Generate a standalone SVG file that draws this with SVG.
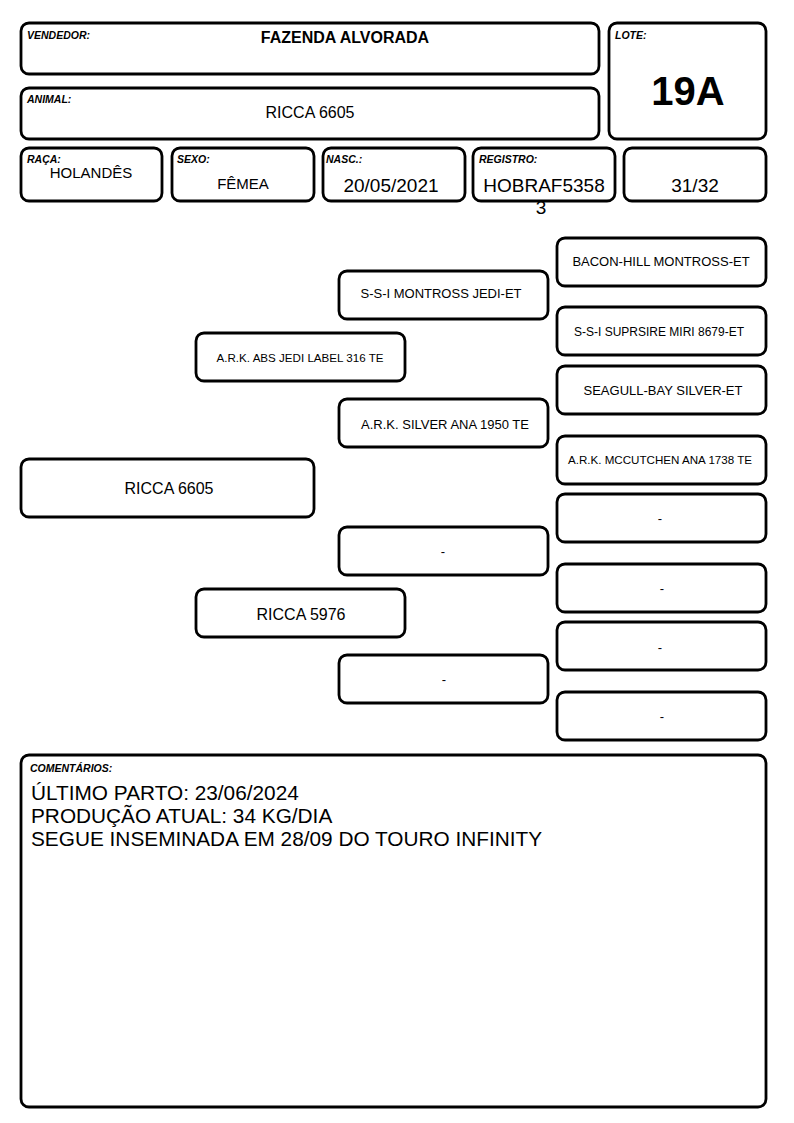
<svg xmlns="http://www.w3.org/2000/svg" width="794" height="1123" viewBox="0 0 794 1123">
<style>
.b{fill:#fff;stroke:#000;stroke-width:2.8}
.lbl{font-family:"Liberation Sans",Arial,sans-serif;font-size:10.5px;font-weight:bold;font-style:italic;fill:#000}
.t{font-family:"Liberation Sans",Arial,sans-serif;fill:#000;text-anchor:middle}
.f16{font-size:16px}
.f13{font-size:13px}
.f12{font-size:12px}
.f11{font-size:11.6px}
.f19{font-size:19px}
.c{font-family:"Liberation Sans",Arial,sans-serif;font-size:20.8px;fill:#000}
</style>
<rect width="794" height="1123" fill="#fff"/>

<g id="vendedor">
<rect class="b" x="21" y="23" width="578" height="51" rx="8"/>
<text class="lbl" x="27" y="39">VENDEDOR:</text>
<text class="t f16" x="345" y="43" font-weight="bold">FAZENDA ALVORADA</text>
</g>
<g id="lote">
<rect class="b" x="609" y="23" width="157" height="116" rx="8"/>
<text class="lbl" x="615" y="39">LOTE:</text>
<text class="t" x="688" y="105" font-size="40" font-weight="bold">19A</text>
</g>
<g id="animal">
<rect class="b" x="21" y="88" width="578" height="51" rx="8"/>
<text class="lbl" x="27" y="103">ANIMAL:</text>
<text class="t f16" x="310" y="118">RICCA 6605</text>
</g>
<g id="raca">
<rect class="b" x="21" y="148" width="141" height="53" rx="8"/>
<text class="lbl" x="27" y="163">RAÇA:</text>
<text class="t" x="91" y="178" font-size="15">HOLANDÊS</text>
</g>
<g id="sexo">
<rect class="b" x="172" y="148" width="142" height="53" rx="8"/>
<text class="lbl" x="177" y="163">SEXO:</text>
<text class="t" x="243" y="189" font-size="15">FÊMEA</text>
</g>
<g id="nasc">
<rect class="b" x="323" y="148" width="142" height="53" rx="8"/>
<text class="lbl" x="326" y="163">NASC.:</text>
<text class="t f19" x="391" y="192">20/05/2021</text>
</g>
<g id="registro">
<rect class="b" x="473" y="148" width="142" height="53" rx="8"/>
<text class="lbl" x="479" y="163">REGISTRO:</text>
<text class="t f19" x="544" y="192">HOBRAF5358</text>
<text class="t f19" x="541" y="214">3</text>
</g>
<g id="fracao">
<rect class="b" x="624" y="148" width="142" height="53" rx="8"/>
<text class="t f19" x="695" y="192">31/32</text>
</g>

<g id="animal-ped">
<rect class="b" x="21" y="459" width="293" height="58" rx="8"/>
<text class="t f16" x="169" y="494">RICCA 6605</text>
</g>
<g id="pai">
<rect class="b" x="196" y="333" width="209" height="48" rx="8"/>
<text class="t f11" x="300" y="362">A.R.K. ABS JEDI LABEL 316 TE</text>
</g>
<g id="mae">
<rect class="b" x="196" y="589" width="209" height="48" rx="8"/>
<text class="t f16" x="301" y="620">RICCA 5976</text>
</g>
<g id="avo-pp">
<rect class="b" x="339" y="271" width="209" height="48" rx="8"/>
<text class="t f13" x="441" y="298">S-S-I MONTROSS JEDI-ET</text>
</g>
<g id="avo-pm">
<rect class="b" x="339" y="399" width="209" height="48" rx="8"/>
<text class="t f13" x="445" y="429">A.R.K. SILVER ANA 1950 TE</text>
</g>
<g id="avo-mp">
<rect class="b" x="339" y="527" width="209" height="48" rx="8"/>
<text class="t f13" x="443" y="556">-</text>
</g>
<g id="avo-mm">
<rect class="b" x="339" y="655" width="209" height="48" rx="8"/>
<text class="t f13" x="444" y="684">-</text>
</g>
<g id="bis-1">
<rect class="b" x="557" y="238" width="209" height="48" rx="8"/>
<text class="t f13" x="661" y="266">BACON-HILL MONTROSS-ET</text>
</g>
<g id="bis-2">
<rect class="b" x="557" y="307" width="209" height="48" rx="8"/>
<text class="t f12" x="659" y="336">S-S-I SUPRSIRE MIRI 8679-ET</text>
</g>
<g id="bis-3">
<rect class="b" x="557" y="366" width="209" height="48" rx="8"/>
<text class="t f13" x="663" y="395">SEAGULL-BAY SILVER-ET</text>
</g>
<g id="bis-4">
<rect class="b" x="557" y="436" width="209" height="48" rx="8"/>
<text class="t f11" x="660" y="464">A.R.K. MCCUTCHEN ANA 1738 TE</text>
</g>
<g id="bis-5">
<rect class="b" x="557" y="494" width="209" height="48" rx="8"/>
<text class="t f13" x="660" y="523">-</text>
</g>
<g id="bis-6">
<rect class="b" x="557" y="564" width="209" height="48" rx="8"/>
<text class="t f13" x="662" y="593">-</text>
</g>
<g id="bis-7">
<rect class="b" x="557" y="622" width="209" height="48" rx="8"/>
<text class="t f13" x="660" y="652">-</text>
</g>
<g id="bis-8">
<rect class="b" x="557" y="692" width="209" height="48" rx="8"/>
<text class="t f13" x="662" y="721">-</text>
</g>

<g id="comentarios">
<rect class="b" x="21" y="755" width="745" height="352" rx="8"/>
<text class="lbl" x="30" y="772">COMENTÁRIOS:</text>
<text class="c" x="31" y="800">ÚLTIMO PARTO: 23/06/2024</text>
<text class="c" x="31" y="823">PRODUÇÃO ATUAL: 34 KG/DIA</text>
<text class="c" x="31" y="846">SEGUE INSEMINADA EM 28/09 DO TOURO INFINITY</text>
</g>
</svg>
